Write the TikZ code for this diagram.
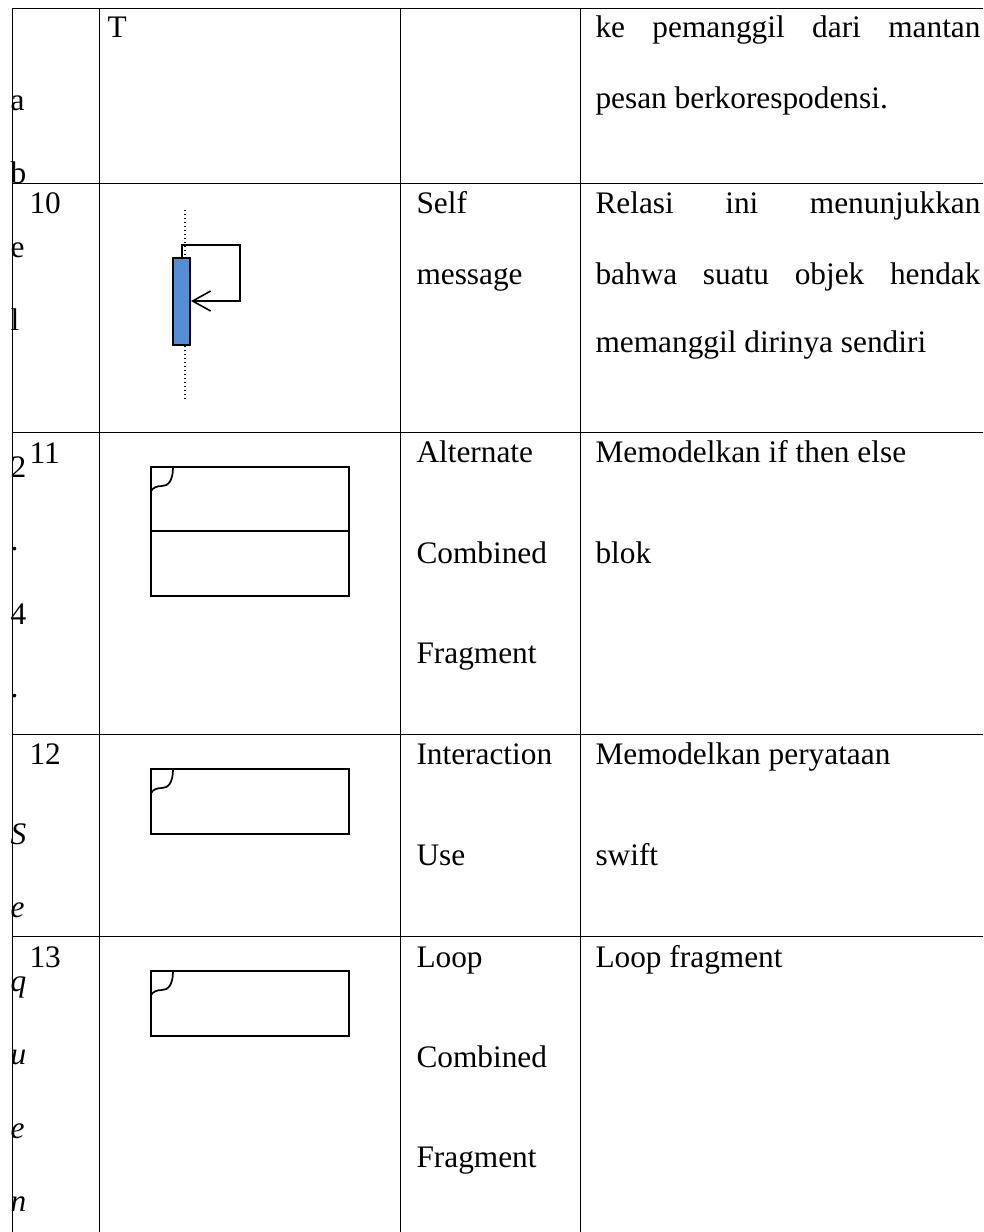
\documentclass[tikz,border=0pt]{standalone}
\usepackage{fontspec}
\setmainfont{Liberation Serif}
\usetikzlibrary{arrows.meta}

\definecolor{actblue}{RGB}{85,142,213}
\newcommand{\justline}[1]{\makebox[288.75pt][s]{#1}}

\tikzset{every picture/.style={line width=0.75pt}}
\tikzset{
  cell/.style={anchor=base west,inner sep=0pt,font=\fontsize{23.5}{28}\selectfont},
  side/.style={cell},
  sideit/.style={cell,font=\fontsize{23.5}{28}\selectfont\itshape},
  frag/.style={line width=0.85pt},
  corner/.style={line width=1.3pt},
}

\begin{document}
\begin{tikzpicture}[x=0.75pt,y=0.75pt,yscale=-1,xscale=1]
	\useasboundingbox (0,0) rectangle (983,1232);
	
	%Table: rows
	\draw    (12,8) -- (983,8) ;
	\draw    (12,183) -- (983,183) ;
	\draw    (12,432) -- (983,432) ;
	\draw    (12,734) -- (983,734) ;
	\draw    (12,936) -- (983,936) ;
	%Table: columns
	\draw    (12,8) -- (12,1232) ;
	\draw    (99,8) -- (99,1232) ;
	\draw    (400,8) -- (400,1232) ;
	\draw    (580,8) -- (580,1232) ;
	
	%Lifeline
	\draw [dotted, line width=1pt]   (185,210) -- (185,400) ;
	%Activation box
	\draw [fill=actblue, line width=1.1pt]  (173,258) rectangle (190,345) ;
	\coordinate (selfout) at (182,258);
	\coordinate (selfin) at (191,301);
	%Self message
	\draw [line width=1.2pt, -{Straight Barb[length=13.5pt,width=15pt]}]   (selfout) -- (182,245) -- (240,245) -- (240,301) -- (selfin) ;
	
	%Shape: Alternate fragment
	\draw [frag]  (151,467) rectangle (349,596) ;
	\draw [frag]    (151,531) -- (349,531) ;
	\draw [corner]    (173,467) .. controls (173,481) and (168,486) .. (162,486) .. controls (156,486) and (153,488) .. (151,491) ;
	%Shape: Interaction use
	\draw [frag]  (151,769) rectangle (349,834) ;
	\draw [corner]    (173,769) .. controls (173,783) and (168,788) .. (162,788) .. controls (156,788) and (153,790) .. (151,793) ;
	%Shape: Loop fragment
	\draw [frag]  (151,971) rectangle (349,1036) ;
	\draw [corner]    (173,971) .. controls (173,985) and (168,990) .. (162,990) .. controls (156,990) and (153,992) .. (151,995) ;
	
	% Side letters
	\node [cell] (tT) at (107,37) {T};
	\node [side] (sa) at (10,110.4) {a};
	\node [side] (sb) at (10,183.8) {b};
	\node [side] (se) at (10,257.2) {e};
	\node [side] (sl) at (10,330.6) {l};
	\node [side] (s2) at (10,477.4) {2};
	\node [side] (sd1) at (10,550.8) {.};
	\node [side] (s4) at (10,624.2) {4};
	\node [side] (sd2) at (10,697.6) {.};
	\node [sideit] (sS) at (10,844.4) {S};
	\node [sideit] (se2) at (10,917.8) {e};
	\node [sideit] (sq) at (10,991.2) {q};
	\node [sideit] (su) at (10,1064.6) {u};
	\node [sideit] (se3) at (10,1138) {e};
	\node [sideit] (sn) at (10,1211.4) {n};
	
	% Numbers
	\node [cell] (no10) at (29,213) {10};
	\node [cell] (no11) at (29,463) {11};
	\node [cell] (no12) at (29,764) {12};
	\node [cell] (no13) at (29,967) {13};
	
	% Names
	\node [cell] (nm10a) at (416,213) {Self};
	\node [cell] (nm10b) at (416,284) {message};
	\node [cell] (nm11a) at (416,462) {Alternate};
	\node [cell] (nm11b) at (416,563) {Combined};
	\node [cell] (nm11c) at (416,663) {Fragment};
	\node [cell] (nm12a) at (416,764) {Interaction};
	\node [cell] (nm12b) at (416,865) {Use};
	\node [cell] (nm13a) at (416,967) {Loop};
	\node [cell] (nm13b) at (416,1067) {Combined};
	\node [cell] (nm13c) at (416,1167) {Fragment};
	
	% Descriptions
	\node [cell] (ds9a) at (595,37) {\justline{ke pemanggil dari mantan}};
	\node [cell] (ds9b) at (595,108) {pesan berkorespodensi.};
	\node [cell] (ds10a) at (595,213) {\justline{Relasi ini menunjukkan}};
	\node [cell] (ds10b) at (595,284) {\justline{bahwa suatu objek hendak}};
	\node [cell] (ds10c) at (595,352) {memanggil dirinya sendiri};
	\node [cell] (ds11a) at (595,462) {Memodelkan if then else};
	\node [cell] (ds11b) at (595,563) {blok};
	\node [cell] (ds12a) at (595,764) {Memodelkan peryataan};
	\node [cell] (ds12b) at (595,865) {swift};
	\node [cell] (ds13a) at (595,967) {Loop fragment};
	
\end{tikzpicture}
\end{document}
